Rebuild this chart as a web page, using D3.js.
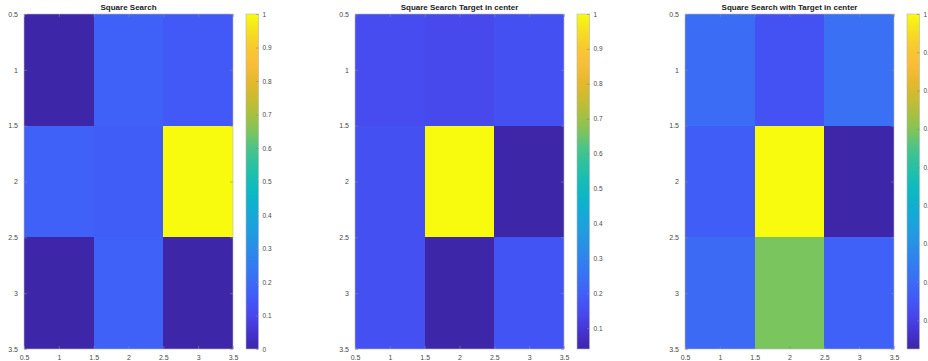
<!DOCTYPE html>
<html>
<head>
<meta charset="utf-8">
<script src="https://cdn.jsdelivr.net/npm/d3@7"></script>
<style>
  body { margin: 0; background: #fff; }
  svg { display: block; font-family: "Liberation Sans", Arial, sans-serif; }
</style>
</head>
<body>
<svg id="fig" width="928" height="361"></svg>
<script>
// Panel titles
const titles = [
  "Square Search",
  "Square Search Target in center",
  "Square Search with Target in center"
];

// 3x3 grids, row by row (row 1 at the top)
const squareSearch = [
  [0.00, 0.17, 0.15],
  [0.17, 0.16, 1.00],
  [0.00, 0.17, 0.00]
];
const targetInCenter = [
  [0.15, 0.14, 0.16],
  [0.16, 1.00, 0.04],
  [0.16, 0.04, 0.17]
];
const withTargetInCenter = [
  [0.30, 0.24, 0.31],
  [0.265, 1.00, 0.125],
  [0.295, 0.69, 0.275]
];

// Axis and colorbar tick values
const axisTicks = [0.5, 1, 1.5, 2, 2.5, 3, 3.5];
const cbarTicks1 = [0, 0.1, 0.2, 0.3, 0.4, 0.5, 0.6, 0.7, 0.8, 0.9, 1];
const cbarTicks2 = [0.1, 0.2, 0.3, 0.4, 0.5, 0.6, 0.7, 0.8, 0.9, 1];
const cbarTicks3 = [0.2, 0.3, 0.4, 0.5, 0.6, 0.7, 0.8, 0.9, 1];

// Parula colormap stops
const parulaStops = [
  "#3e26a8", "#4433d0", "#4747ec", "#4259f8", "#3b6cf5", "#327cf2",
  "#298de8", "#209de0", "#14a9d8", "#0bb5c8", "#14bdb8", "#2ac2a0",
  "#4ac48a", "#7ec55a", "#a8c040", "#cbbc30", "#e6b82e", "#fbbd3a",
  "#f8c92e", "#f5e021", "#f9fb0e"
];
const parula = d3.scaleLinear()
  .domain(parulaStops.map((_, i) => i / (parulaStops.length - 1)))
  .range(parulaStops)
  .interpolate(d3.interpolateRgb)
  .clamp(true);

const panels = [
  { title: titles[0], data: squareSearch, cticks: cbarTicks1, left: 24 },
  { title: titles[1], data: targetInCenter, cticks: cbarTicks2, left: 355 },
  { title: titles[2], data: withTargetInCenter, cticks: cbarTicks3, left: 685 }
];

const axTop = 14, axBottom = 349, axW = 209;
const cbGap = 13, cbW = 12.5;
const svg = d3.select("#fig");
const defs = svg.append("defs");
const fmt = d3.format("~g");
const textCol = "#4a4a4a", lineCol = "#8a8a8a";

panels.forEach((p, k) => {
  const flat = p.data.flat();
  const [vmin, vmax] = d3.extent(flat);
  const norm = d3.scaleLinear().domain([vmin, vmax]).range([0, 1]);
  const color = v => parula(norm(v));

  const x = d3.scaleLinear().domain([0.5, 3.5]).range([p.left, p.left + axW]);
  const y = d3.scaleLinear().domain([0.5, 3.5]).range([axTop, axBottom]);
  const g = svg.append("g");

  // cells
  const cells = [];
  p.data.forEach((row, i) => row.forEach((v, j) => cells.push({ r: i + 1, c: j + 1, v })));
  g.selectAll("rect.cell").data(cells).join("rect")
    .attr("class", "cell")
    .attr("x", d => x(d.c - 0.5))
    .attr("y", d => y(d.r - 0.5))
    .attr("width", d => x(d.c + 0.5) - x(d.c - 0.5))
    .attr("height", d => y(d.r + 0.5) - y(d.r - 0.5))
    .attr("fill", d => color(d.v))
    .attr("shape-rendering", "crispEdges");

  // axes: ticks point inward, box on all sides
  const styleAxis = sel => {
    sel.select(".domain").remove();
    sel.selectAll(".tick line").attr("stroke", lineCol).attr("stroke-width", 0.6);
    sel.selectAll(".tick text").attr("fill", textCol).attr("font-size", 7);
  };
  g.append("g").attr("transform", `translate(0,${axBottom})`)
    .call(d3.axisBottom(x).tickValues(axisTicks).tickFormat(fmt).tickSizeInner(-3).tickPadding(6))
    .call(styleAxis);
  g.append("g").attr("transform", `translate(${p.left},0)`)
    .call(d3.axisLeft(y).tickValues(axisTicks).tickFormat(fmt).tickSizeInner(-3).tickPadding(6))
    .call(styleAxis);
  g.append("g").attr("transform", `translate(0,${axTop})`)
    .call(d3.axisTop(x).tickValues(axisTicks).tickFormat("").tickSizeInner(-3))
    .call(styleAxis);
  g.append("g").attr("transform", `translate(${p.left + axW},0)`)
    .call(d3.axisRight(y).tickValues(axisTicks).tickFormat("").tickSizeInner(-3))
    .call(styleAxis);
  g.append("rect")
    .attr("x", p.left).attr("y", axTop).attr("width", axW).attr("height", axBottom - axTop)
    .attr("fill", "none").attr("stroke", "#b5b5b5").attr("stroke-width", 0.6);

  // title
  g.append("text")
    .attr("x", p.left + axW / 2).attr("y", 10)
    .attr("text-anchor", "middle")
    .attr("font-size", 8).attr("font-weight", "bold").attr("fill", "#222")
    .text(p.title);

  // colorbar
  const cx = p.left + axW + cbGap;
  const cy = d3.scaleLinear().domain([vmin, vmax]).range([axBottom, axTop]);
  const gradId = "cb" + k;
  const grad = defs.append("linearGradient").attr("id", gradId)
    .attr("x1", 0).attr("y1", 1).attr("x2", 0).attr("y2", 0);
  d3.range(0, 1.0001, 0.02).forEach(t => {
    grad.append("stop").attr("offset", t).attr("stop-color", parula(t));
  });
  g.append("rect")
    .attr("x", cx).attr("y", axTop).attr("width", cbW).attr("height", axBottom - axTop)
    .attr("fill", `url(#${gradId})`)
    .attr("stroke", "#b5b5b5").attr("stroke-width", 0.6);
  const cAxis = g.append("g").attr("transform", `translate(${cx + cbW},0)`)
    .call(d3.axisRight(cy).tickValues(p.cticks).tickFormat(fmt).tickSizeInner(-2.5).tickPadding(4));
  styleAxis(cAxis);
  cAxis.selectAll(".tick text").attr("font-size", 6.5);
});
</script>
</body>
</html>
